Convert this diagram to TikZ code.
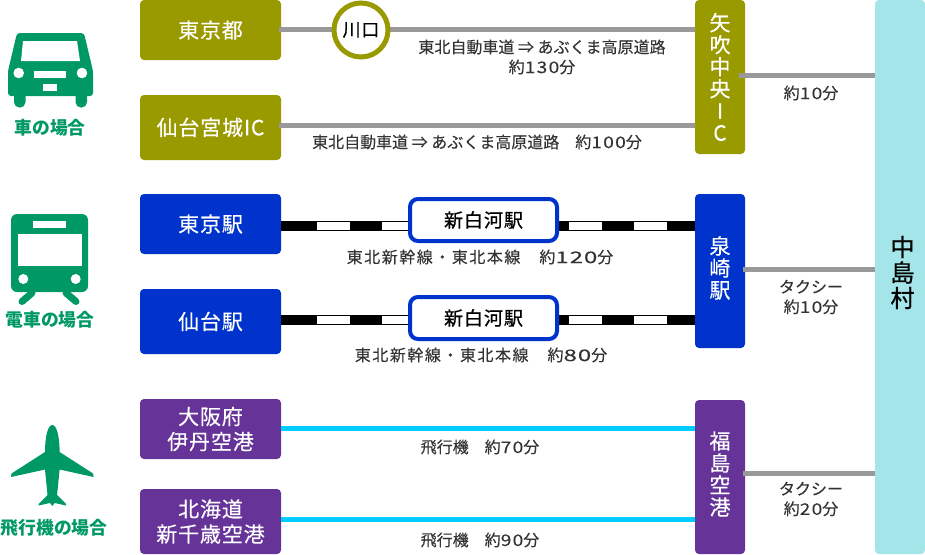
\documentclass[tikz,border=0pt]{standalone}
\usepackage{fontspec}
\setmainfont{Noto Sans CJK JP}
\newfontfamily\jpbox[LetterSpace=4,FakeBold=0.3]{Noto Sans CJK JP}
\newfontfamily\jpmid[LetterSpace=5,FakeBold=0.7]{Noto Sans CJK JP}
\newfontfamily\jpnaka[FakeBold=0.8]{Noto Sans CJK JP}
\newfontfamily\jpcap[LetterSpace=0,FakeBold=0.15]{Noto Sans CJK JP}
\newfontfamily\jprail[LetterSpace=9.5,FakeBold=0.15]{Noto Sans CJK JP}
\newfontfamily\jpdg[LetterSpace=8,FakeStretch=1.2,FakeBold=0.15]{Noto Sans CJK JP}
\newfontfamily\jpdgwide[LetterSpace=6,FakeStretch=1.5,FakeBold=0.15]{Noto Sans CJK JP}
\newcommand{\dg}[1]{{\jpdg\fontsize{16}{20}\selectfont #1}}
\newcommand{\dgw}[1]{{\jpdgwide\fontsize{16}{20}\selectfont #1}}
\definecolor{olivebox}{HTML}{999900}
\definecolor{bluebox}{HTML}{0033CC}
\definecolor{purplebox}{HTML}{663399}
\definecolor{tealbox}{HTML}{A3E5E8}
\definecolor{icongreen}{HTML}{009966}
\definecolor{linegray}{HTML}{999999}
\definecolor{skyline}{HTML}{00CCFF}
\definecolor{captext}{HTML}{333333}
\tikzset{
  x=1pt,y=-1pt,
  box/.style={rectangle,rounded corners=4pt,inner sep=0pt,text=white,align=center,
    font=\jpbox\fontsize{21}{25}\selectfont},
  startbox/.style={box,minimum width=141pt},
  stopbox/.style={box,minimum width=50pt},
  stoptxt/.style={inner sep=0pt,text=white,align=center,font=\jpbox\fontsize{21}{22}\selectfont},
  captxt/.style={inner sep=0pt,text=captext,align=center,font=\jpcap\fontsize{16}{20}\selectfont},
  railtxt/.style={captxt,font=\jprail\fontsize{16}{20}\selectfont},
  headtxt/.style={inner sep=0pt,text=icongreen,font=\bfseries\fontsize{17.8}{20}\selectfont},
  roadline/.style={draw=linegray,line width=5pt},
  skyway/.style={draw=skyline,line width=5pt},
  railbase/.style={draw=black,line width=10.5pt},
  railwhite/.style={draw=white,line width=7.5pt},
  midst/.style={rectangle,rounded corners=8pt,draw=bluebox,line width=4pt,fill=white,
    minimum width=147pt,minimum height=42pt,inner sep=0pt,
    font=\jpmid\fontsize{19}{20}\selectfont},
  iconfill/.style={fill=icongreen,draw=none},
  cutout/.style={fill=white,draw=none},
}
\begin{document}
\begin{tikzpicture}
\useasboundingbox (0,0) rectangle (925,554);
% boxes
\node[startbox,fill=olivebox,minimum height=60pt] (tokyo) at (210.5,30) {\raisebox{1pt}{東京都}};
\node[startbox,fill=olivebox,minimum height=65pt] (sendaiic) at (210.5,127.5) {\raisebox{2pt}{仙台宮城IC}};
\node[stopbox,fill=olivebox,minimum height=154pt] (yabuki) at (720,77) {};
\node[stoptxt] (yabukit) at (yabuki) {矢\\吹\\中\\央\\I\\C};
\node[startbox,fill=bluebox,minimum height=60pt] (tokyost) at (210.5,224) {東京駅};
\node[startbox,fill=bluebox,minimum height=65pt] (sendaist) at (210.5,321.5) {仙台駅};
\node[stopbox,fill=bluebox,minimum height=154pt] (izumi) at (720,271) {};
\node[stoptxt,yshift=3pt] (izumit) at (izumi) {泉\\崎\\駅};
\node[startbox,fill=purplebox,minimum height=60pt] (osaka) at (210.5,429) {大阪府\\伊丹空港};
\node[startbox,fill=purplebox,minimum height=65pt] (hokkaido) at (210.5,521.5) {北海道\\新千歳空港};
\node[stopbox,fill=purplebox,minimum height=154pt] (fukushima) at (720,477) {};
\node[stoptxt,yshift=3pt] (fukushimat) at (fukushima) {福\\島\\空\\港};
\node[box,fill=tealbox,minimum width=50pt,minimum height=554pt] (naka) at (900,277) {};
\node[inner sep=0pt,align=center,text=black,xshift=2.5pt,yshift=4.5pt,
  font=\jpnaka\fontsize{24}{25.5}\selectfont] (nakat) at (naka) {中\\島\\村};
% road lines
\draw[roadline] ([xshift=-2pt,yshift=0.5pt]tokyo.east) -- ([yshift=0.5pt]tokyo.east -| yabuki.west);
\draw[roadline] ([xshift=-2pt,yshift=2pt]sendaiic.east) -- ([yshift=2pt]sendaiic.east -| yabuki.west);
\draw[roadline] ([xshift=-6pt,yshift=1.5pt]yabuki.east) -- ([yshift=1.5pt]yabuki.east -| naka.west);
\draw[roadline] ([xshift=-2pt,yshift=2pt]izumi.east) -- ([yshift=2pt]izumi.east -| naka.west);
\draw[roadline] ([xshift=-2pt,yshift=4pt]fukushima.east) -- ([yshift=4pt]fukushima.east -| naka.west);
% Kawaguchi
\node[circle,draw=olivebox,line width=5pt,fill=white,minimum size=54pt,inner sep=0pt,
  font=\jpbox\fontsize{18}{20}\selectfont] (kawaguchi) at (361,30) {川口};
% rails
\coordinate (shiraw1) at (408,226);
\coordinate (shirae1) at (559,226);
\coordinate (shiraw2) at (408,320);
\coordinate (shirae2) at (559,320);
\draw[railbase] (tokyost.east |- shiraw1) -- (shiraw1);
\draw[railwhite,dash pattern=on 0pt off 36pt on 33pt off 32pt on 40pt off 100pt] (tokyost.east |- shiraw1) -- (shiraw1);
\draw[railbase] (shirae1) -- (izumi.west |- shirae1);
\draw[railwhite,dash pattern=on 33pt off 32pt,dash phase=55pt] (shirae1) -- (izumi.west |- shirae1);
\draw[railbase] (sendaist.east |- shiraw2) -- (shiraw2);
\draw[railwhite,dash pattern=on 0pt off 36pt on 33pt off 32pt on 40pt off 100pt] (sendaist.east |- shiraw2) -- (shiraw2);
\draw[railbase] (shirae2) -- (izumi.west |- shirae2);
\draw[railwhite,dash pattern=on 33pt off 32pt,dash phase=55pt] (shirae2) -- (izumi.west |- shirae2);
\node[midst] (shira1) at (483.5,220) {新白河駅};
\node[midst] (shira2) at (483.5,318) {新白河駅};
% sky lines
\draw[skyway] ([yshift=1pt]osaka.east) -- ([yshift=1pt]osaka.east -| fukushima.west);
\draw[skyway] ([yshift=2pt]hokkaido.east) -- ([yshift=2pt]hokkaido.east -| fukushima.west);
% captions
\node[captxt] (c1) at (542,47) {東北自動車道 ⇒ あぶくま高原道路};
\node[captxt] (c2) at (542,67) {約\dg{130}分};
\node[captxt] (c3) at (477,142) {東北自動車道 ⇒ あぶくま高原道路　約\dg{100}分};
\node[captxt] (c4) at (811,93) {約\dg{10}分};
\node[railtxt] (c5) at (480,257) {東北新幹線・東北本線　約\dgw{120}分};
\node[railtxt] (c6) at (481,355) {東北新幹線・東北本線　約\dgw{80}分};
\node[captxt] (c7) at (811,297) {タクシー\\約\dg{10}分};
\node[captxt] (c8) at (480,447) {飛行機　約\dg{70}分};
\node[captxt] (c9) at (480,540) {飛行機　約\dg{90}分};
\node[captxt] (c10) at (811,499) {タクシー\\約\dg{20}分};
\node[headtxt] (h1) at (50,128) {車の場合};
\node[headtxt] (h2) at (50,320) {電車の場合};
\node[headtxt] (h3) at (54,528) {飛行機の場合};
% car icon
\fill[iconfill,rounded corners=3pt] (17,33) -- (84,33) -- (93,71) -- (93,96) -- (8,96) -- (8,71) -- cycle;
\fill[iconfill,rounded corners=5.5pt] (14,90) rectangle (25.5,107.6);
\fill[iconfill,rounded corners=5.5pt] (75.5,90) rectangle (87,107.6);
\fill[cutout] (23,41) -- (77,41) -- (80,61) -- (21,61) -- cycle;
\fill[cutout] (18.7,73) circle (5.3pt) (82,73) circle (5.3pt);
\fill[cutout] (34,71) rectangle (66,78.3);
\fill[cutout] (43,84.3) rectangle (57,91.3);
% train icon
\draw[icongreen,line width=7pt,line cap=round] (32,293) -- (22,301.5);
\draw[icongreen,line width=7pt,line cap=round] (66,293) -- (76,301.5);
\fill[iconfill,rounded corners=6pt] (11,214) rectangle (88,292);
\fill[cutout] (33,221) rectangle (65.5,228);
\fill[cutout] (17.5,234.3) rectangle (81.5,265.7);
\fill[cutout] (23.3,279) circle (5pt) (75.7,279) circle (5pt);
% plane icon
\fill[iconfill] (52.3,425) .. controls (48,425) and (45,436) .. (45,452)
  -- (11.5,473.5) -- (11,477) -- (45,469.5) -- (47.5,495) -- (38.5,504) -- (38.5,505.5) -- (50,503) -- (52.3,506)
  -- (54.6,503) -- (66.1,505.5) -- (66.1,504) -- (57.1,495) -- (59.6,469.5) -- (93.6,477) -- (93.1,473.5) -- (59.6,452)
  .. controls (59.6,436) and (56.6,425) .. (52.3,425) -- cycle;
\end{tikzpicture}
\end{document}
